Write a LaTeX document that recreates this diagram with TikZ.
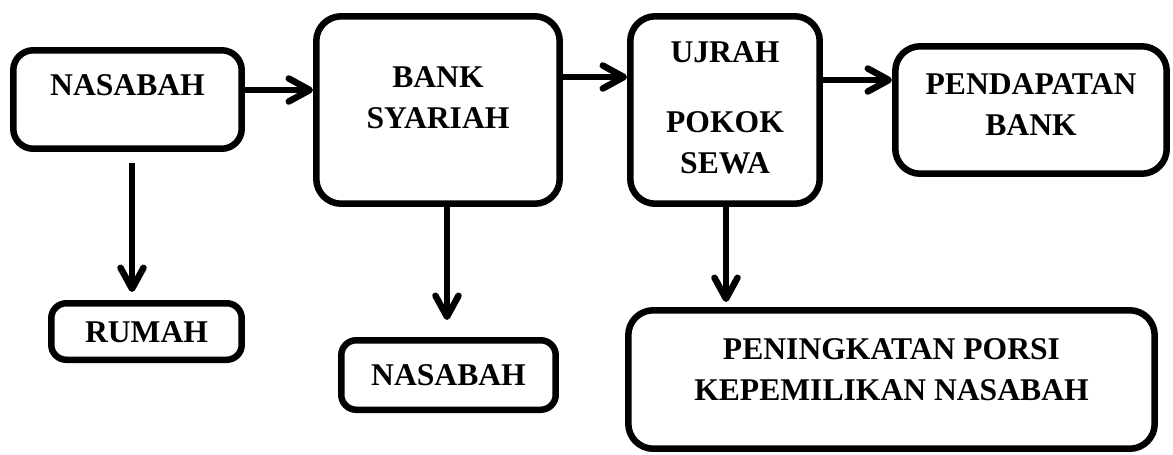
\documentclass[tikz,border=0pt]{standalone}
\usepackage{fontspec}
\setmainfont{Liberation Serif}
\usepackage{tikz}
\usetikzlibrary{arrows.meta}
\tikzset{
  ijbox/.style={draw=black, rounded corners=0.5cm, line width=0.13cm, fill=white, align=center, inner sep=4pt, text height=0.44cm, font=\fontsize{18pt}{23.5pt}\selectfont\bfseries},
  ijsmall/.style={ijbox, rounded corners=0.3cm},
  ijline/.style={-{Straight Barb[length=0.42cm,width=0.46cm,round]}, line width=0.13cm}
}

\begin{document}
\begin{tikzpicture}[x=0.02cm, y=-0.02cm]
  \useasboundingbox (0,0) rectangle (1173,454);
  \node[ijbox, minimum width=4.57cm, minimum height=1.97cm, rounded corners=0.4cm, text depth=0.6cm] (nas) at (127.5,99.5) {NASABAH};
  \node[ijbox, minimum width=4.87cm, minimum height=3.75cm, text height=0.74cm, text depth=0cm] (bank) at (438,110) {BANK\\SYARIAH};
  \node[ijbox, minimum width=3.79cm, minimum height=3.75cm, text height=2.54cm, text depth=0cm] (ujrah) at (725,110) {UJRAH\\[0.57cm]POKOK\\SEWA};
  \node[ijbox, minimum width=5.43cm, minimum height=2.55cm, text height=1.02cm, text depth=0cm] (pend) at (1031,110) {PENDAPATAN\\BANK};
  \node[ijsmall, minimum width=3.81cm, minimum height=1.13cm] (rumah) at (146.5,331.5) {RUMAH};
  \node[ijsmall, minimum width=4.29cm, minimum height=1.39cm] (nasb) at (448.5,375) {NASABAH};
  \node[ijbox, minimum width=10.53cm, minimum height=2.77cm, text height=0.84cm, text depth=0cm] (porsi) at (891.5,379.5) {PENINGKATAN PORSI\\KEPEMILIKAN NASABAH};

  \draw[ijline] ([yshift=0.19cm]nas.east) -- ([yshift=0.19cm]nas.east -| bank.west);
  \draw[ijline] ([yshift=0.66cm]bank.east) -- ([yshift=0.66cm]bank.east -| ujrah.west);
  \draw[ijline] ([yshift=0.6cm]ujrah.east) -- ([yshift=0.6cm]ujrah.east -| pend.west);
  \draw[ijline, shorten <=0.22cm, shorten >=0.16cm] ([xshift=0.09cm]nas.south) -- ([xshift=0.09cm]nas.south |- rumah.north);
  \draw[ijline, shorten >=0.34cm] ([xshift=0.18cm]bank.south) -- ([xshift=0.18cm]bank.south |- nasb.north);
  \draw[ijline, shorten >=0.1cm] ([xshift=0.02cm]ujrah.south) -- ([xshift=0.02cm]ujrah.south |- porsi.north);
\end{tikzpicture}
\end{document}
